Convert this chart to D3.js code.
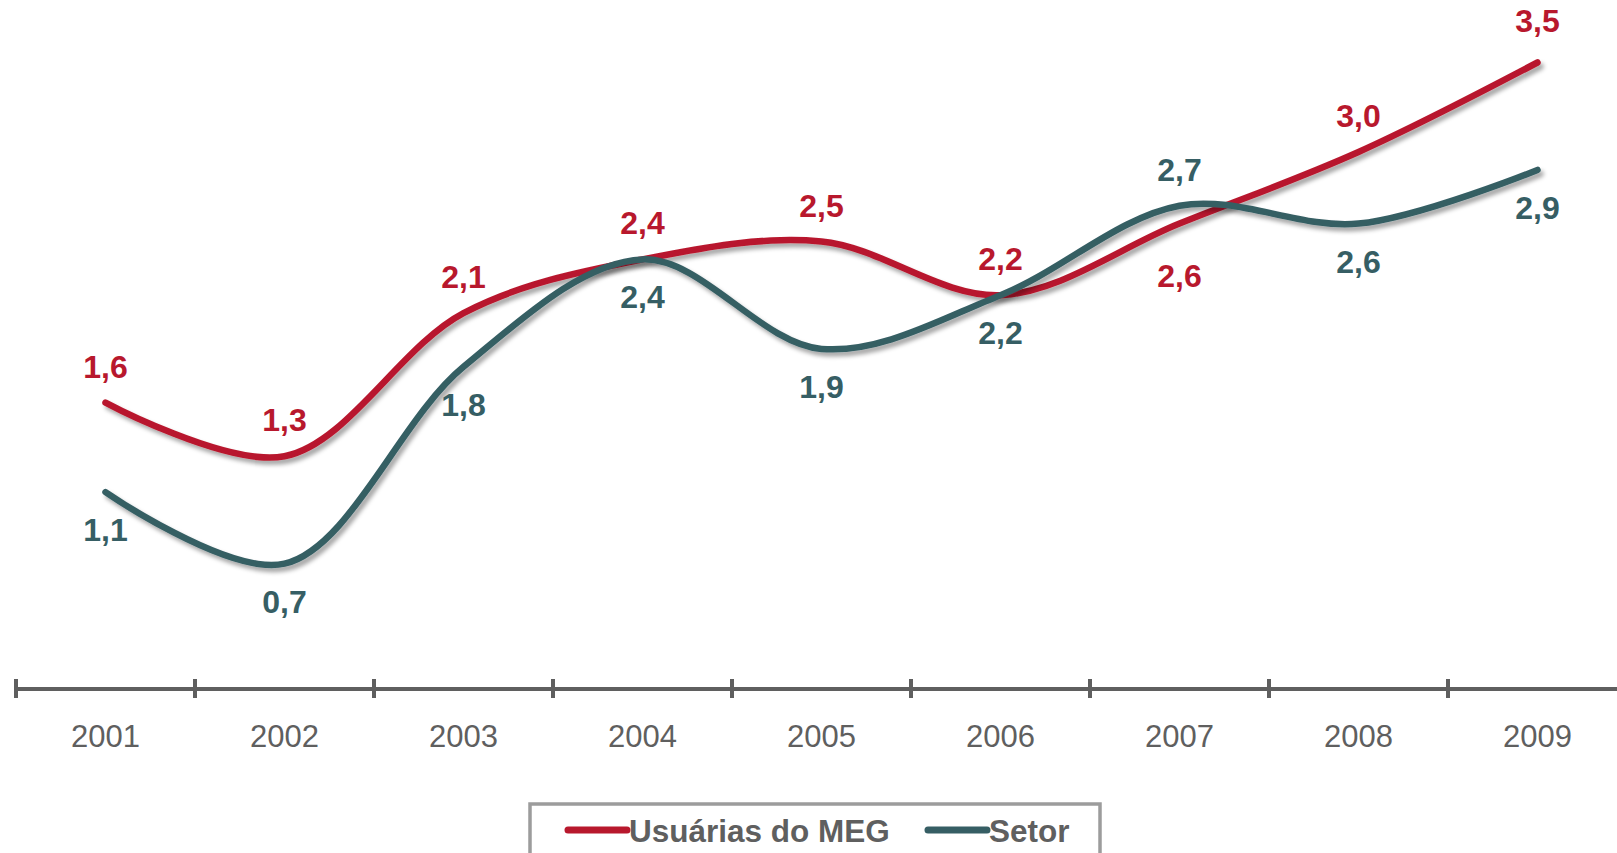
<!DOCTYPE html>
<html>
<head>
<meta charset="utf-8">
<script src="https://cdn.jsdelivr.net/npm/d3@7"></script>
<style>
  body { margin: 0; background: #fff; }
  svg { display: block; font-family: "Liberation Sans", Arial, sans-serif; }
</style>
</head>
<body>
<div id="chart"></div>
<script>
// data
var years = ["2001", "2002", "2003", "2004", "2005", "2006", "2007", "2008", "2009"];
var meg = [1.6, 1.3, 2.1, 2.4, 2.5, 2.2, 2.6, 3.0, 3.5];
var setor = [1.1, 0.7, 1.8, 2.4, 1.9, 2.2, 2.7, 2.6, 2.9];
var megLabelPos = ["up", "up", "up", "up", "up", "up", "downFar", "up", "upFar"];
var setorLabelPos = ["down", "down", "down", "down", "down", "down", "up", "down", "down"];
var seriesNames = ["Usuárias do MEG", "Setor"];

var width = 1617;
var height = 853;
var red = "#b8182d";
var teal = "#365e64";
var grey = "#5f5f5f";

var labelOffset = { up: -25, upFar: -31, down: 49, downFar: 63 };

var x = d3.scaleBand().domain(years).range([16, 1627]);
var y = d3.scaleLinear().domain([0, 4]).range([689, 689 - 4 * 179]);

var svg = d3.select("#chart").append("svg")
  .attr("width", width)
  .attr("height", height);

var defs = svg.append("defs");
var f = defs.append("filter").attr("id", "shadow")
  .attr("x", "-5%").attr("y", "-20%").attr("width", "110%").attr("height", "140%");
f.append("feDropShadow")
  .attr("dx", 3).attr("dy", 4)
  .attr("stdDeviation", 2.2)
  .attr("flood-color", "#000")
  .attr("flood-opacity", 0.35);

// axis
var axis = svg.append("g")
  .attr("transform", "translate(0,689)")
  .call(d3.axisBottom(x).tickSize(0).tickSizeOuter(0));
axis.select(".domain").remove();
axis.selectAll("text")
  .attr("y", 58).attr("dy", 0)
  .attr("fill", grey)
  .style("font-size", "31px")
  .style("font-family", "'Liberation Sans', Arial, sans-serif");

svg.append("line")
  .attr("x1", 16).attr("x2", width)
  .attr("y1", 689).attr("y2", 689)
  .attr("stroke", grey).attr("stroke-width", 4);

var edges = years.map(function(d) { return x(d); });
edges.push(x(years[years.length - 1]) + x.bandwidth());
svg.selectAll(".tickmark").data(edges).enter().append("line")
  .attr("class", "tickmark")
  .attr("x1", function(d) { return d; }).attr("x2", function(d) { return d; })
  .attr("y1", 679).attr("y2", 698)
  .attr("stroke", grey).attr("stroke-width", 4);

var line = d3.line()
  .x(function(d, i) { return x(years[i]) + x.bandwidth() / 2; })
  .y(function(d) { return y(d); })
  .curve(d3.curveCatmullRom.alpha(0.5));

function drawSeries(values, color, pos) {
  svg.append("path")
    .datum(values)
    .attr("d", line)
    .attr("fill", "none")
    .attr("stroke", color)
    .attr("stroke-width", 6.5)
    .attr("stroke-linecap", "round")
    .attr("filter", "url(#shadow)");

  svg.append("g").selectAll("text").data(values).enter().append("text")
    .attr("x", function(d, i) { return x(years[i]) + x.bandwidth() / 2; })
    .attr("y", function(d, i) { return y(d) + labelOffset[pos[i]]; })
    .attr("text-anchor", "middle")
    .attr("fill", color)
    .style("font-size", "32px")
    .style("font-weight", "bold")
    .text(function(d) { return d.toFixed(1).replace(".", ","); });
}

drawSeries(meg, red, megLabelPos);
drawSeries(setor, teal, setorLabelPos);

// legend
var legend = svg.append("g");
legend.append("rect")
  .attr("x", 530).attr("y", 804)
  .attr("width", 570).attr("height", 100)
  .attr("fill", "#fff")
  .attr("stroke", "#9c9c9c").attr("stroke-width", 3.5);

var items = [
  { name: seriesNames[0], color: red, x1: 568, x2: 627 },
  { name: seriesNames[1], color: teal, x1: 928, x2: 987 }
];
items.forEach(function(it) {
  legend.append("line")
    .attr("x1", it.x1).attr("x2", it.x2)
    .attr("y1", 830).attr("y2", 830)
    .attr("stroke", it.color).attr("stroke-width", 7)
    .attr("stroke-linecap", "round");
  legend.append("text")
    .attr("x", it.x2 + 2).attr("y", 842)
    .attr("fill", grey)
    .style("font-size", "31.5px")
    .style("font-weight", "bold")
    .text(it.name);
});
</script>
</body>
</html>
